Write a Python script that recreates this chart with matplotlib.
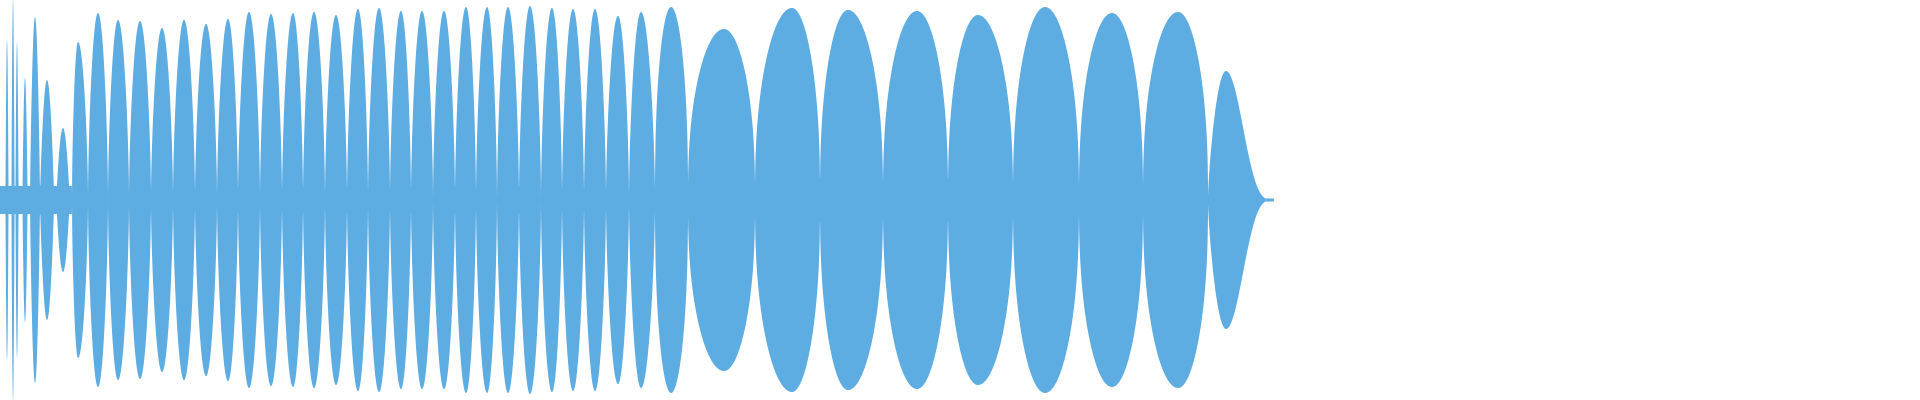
import numpy as np
import matplotlib
matplotlib.use("Agg")
import matplotlib.pyplot as plt

# ---------------------------------------------------------------
# Waveform envelope (x in px, amplitude in px, full scale 200)
# ---------------------------------------------------------------
# noisy onset: spikes / short bursts
onset_x = [7, 13, 17, 25, 35, 47, 63]
onset_amp = [160, 200, 158, 122, 183, 120, 72]
onset_halfwidth = [1.5, 1.5, 1.5, 2.5, 5.0, 7.0, 6.5]
onset_floor = 14          # noise band under the onset
onset_end = 72

# narrow lobes: zero crossings and peaks
narrow_cross = [72, 88, 108, 129, 151, 173, 195, 217, 238, 260, 282, 303, 325, 347,
                368, 390, 411, 433, 455, 476, 497, 519, 541, 562, 584, 606, 629, 655]
narrow_peak = [78, 98, 118, 140, 162, 184, 206, 228, 249, 271, 293, 314, 336, 358,
               379, 401, 422, 444, 466, 487, 508, 530, 552, 573, 595, 618, 641]
narrow_amp = [158, 187, 180, 179, 172, 180, 176, 181, 188, 186, 187, 188, 185, 191,
              192, 189, 189, 189, 193, 193, 193, 194, 192, 191, 191, 184, 188]

# wide lobes
wide_cross = [655, 688, 755, 820, 883, 948, 1013, 1079, 1143, 1208, 1274]
wide_peak = [671, 724, 792, 848, 917, 978, 1045, 1112, 1178, 1226]
wide_amp = [193, 171, 192, 190, 189, 185, 193, 187, 188, 129]

COLOR = "#5DACE2"
W, H = 1920, 400


def lobe(x, s, p, e, amp, k_left, k_right):
    out = np.zeros_like(x)
    m = (x >= s) & (x <= p)
    out[m] = np.sin(0.5 * np.pi * (x[m] - s) / (p - s)) ** k_left
    m = (x > p) & (x <= e)
    out[m] = np.sin(0.5 * np.pi * (e - x[m]) / (e - p)) ** k_right
    return amp * out


x = np.linspace(0, W, 12000)
env = np.zeros_like(x)

env = np.where(x < onset_end, onset_floor, env)
for cx, a, hw in zip(onset_x, onset_amp, onset_halfwidth):
    env = np.maximum(env, lobe(x, cx - hw, cx, cx + hw, a, 0.8, 0.8))

for i, (p, a) in enumerate(zip(narrow_peak, narrow_amp)):
    env = np.maximum(env, lobe(x, narrow_cross[i], p, narrow_cross[i + 1], a, 0.6, 0.6))

for i, (p, a) in enumerate(zip(wide_peak, wide_amp)):
    last = i == len(wide_peak) - 1
    kl, kr = (0.7, 3.5) if last else (0.4, 0.4)
    env = np.maximum(env, lobe(x, wide_cross[i], p, wide_cross[i + 1], a, kl, kr))

env = np.maximum(env, 1.5 * (x < wide_cross[-1]))

fig = plt.figure(figsize=(W / 100, H / 100), dpi=100)
ax = fig.add_axes([0, 0, 1, 1])
ax.fill_between(x, -env, env, color=COLOR, linewidth=0)
ax.set_xlim(0, W)
ax.set_ylim(-200, 200)
ax.axis("off")
fig.savefig("out.png", dpi=100, facecolor="white")
